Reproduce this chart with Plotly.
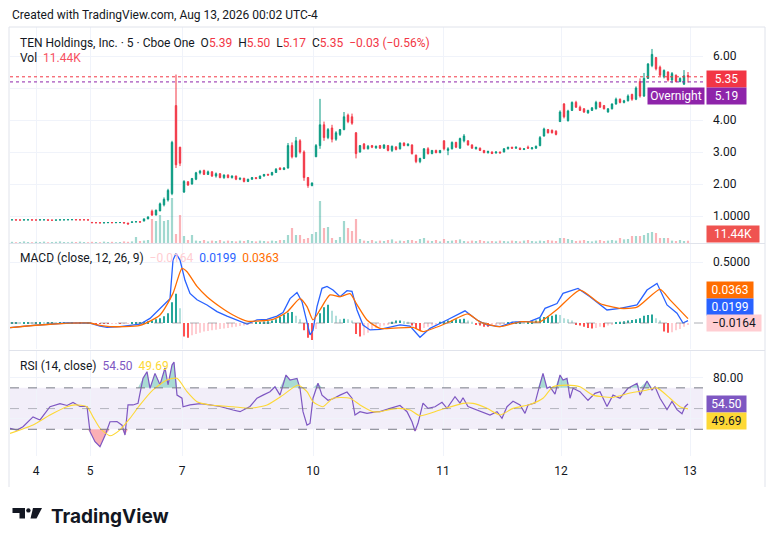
import plotly.graph_objects as go

# page has an 8px body margin: figure is sized to fit and coordinates are page pixels
OFF = 8
W, H = 776 - 2 * OFF, 546 - 2 * OFF
def fx(p): return (p - OFF) / W
def fy(p): return 1 - (p - OFF) / H

# ---------------- DATA ----------------
bars = list(range(170))                      # 5-minute bar number
day_ticks = [6, 19.5, 42.5, 75.25, 107.75, 137.25, 169.5]
day_labels = ["4", "5", "7", "10", "11", "12", "13"]

open_ = [.88,.88,.875,.875,.88,.88,.875,.875,.88,.88,
         .87,.87,.875,.88,.88,.885,.885,.88,.88,.88,
         .80,.79,.79,.785,.79,.795,.79,.795,.795,.78,
         .80,.815,.82,.84,.91,1.15,1.03,1.16,1.35,1.5,
         1.7,4.45,3.15,1.75,2.07,2.0,2.15,2.35,2.42,2.3,
         2.38,2.25,2.32,2.2,2.28,2.2,2.25,2.15,2.18,2.08,
         2.15,2.2,2.17,2.25,2.3,2.28,2.36,2.5,2.45,2.5,
         3.2,2.85,3.35,3.0,2.2,1.95,2.85,3.2,3.85,3.45,
         3.75,3.4,3.55,3.7,4.15,4.1,3.6,3.0,3.25,3.1,
         3.2,3.13,3.2,3.12,3.2,3.05,3.16,3.1,3.28,3.2,
         3.22,2.9,2.7,2.8,3.1,2.95,3.05,2.98,3.35,3.05,
         3.1,3.3,3.12,3.35,3.35,3.22,3.1,3.12,3.05,2.98,
         3.0,2.97,3.0,3.0,3.1,3.15,3.12,3.12,3.08,3.15,
         3.1,3.12,3.2,3.5,3.7,3.68,3.65,3.95,4.5,3.98,
         4.3,4.55,4.4,4.35,4.22,4.3,4.35,4.55,4.45,4.25,
         4.35,4.5,4.65,4.55,4.6,4.8,4.65,5.2,4.75,5.3,
         5.7,5.95,5.65,5.35,5.5,5.25,5.4,5.2,5.12,5.39]
high_ = [.885,.88,.88,.885,.885,.88,.88,.885,.885,.88,
         .875,.88,.885,.885,.885,.89,.89,.885,.885,.88,
         .81,.80,.795,.795,.80,.80,.80,.80,.80,.785,
         .82,.83,.83,.92,.99,1.2,1.2,1.42,1.58,1.85,
         3.35,5.42,3.16,2.12,2.08,2.19,2.38,2.44,2.45,2.42,
         2.4,2.36,2.34,2.3,2.3,2.27,2.26,2.2,2.19,2.16,
         2.22,2.21,2.26,2.31,2.32,2.38,2.5,2.52,2.53,3.28,
         3.3,3.47,3.4,3.05,2.22,2.05,3.25,4.66,3.95,3.75,
         3.85,3.65,3.72,4.25,4.2,4.2,3.62,3.22,3.28,3.22,
         3.22,3.2,3.22,3.24,3.22,3.2,3.18,3.3,3.3,3.27,
         3.24,2.92,2.82,3.12,3.15,3.06,3.07,3.06,3.36,3.15,
         3.33,3.32,3.45,3.56,3.36,3.24,3.16,3.14,3.06,3.04,
         3.02,3.02,3.01,3.12,3.16,3.16,3.17,3.14,3.12,3.2,
         3.15,3.2,3.5,3.76,3.72,3.7,3.68,4.3,4.53,4.32,
         4.58,4.6,4.45,4.37,4.32,4.4,4.6,4.57,4.47,4.37,
         4.52,4.7,4.67,4.63,4.8,4.82,5.05,5.3,5.47,5.78,
         6.22,5.97,5.7,5.58,5.52,5.5,5.42,5.33,5.56,5.50]
low_ = [.875,.87,.87,.87,.875,.87,.87,.875,.875,.87,
        .865,.87,.875,.875,.875,.88,.88,.875,.875,.87,
        .79,.78,.78,.78,.785,.785,.785,.79,.78,.74,
        .80,.81,.80,.84,.90,1.0,1.02,1.15,1.3,1.45,
        1.65,2.5,2.56,1.72,1.94,1.98,2.12,2.3,2.28,2.28,
        2.22,2.2,2.18,2.16,2.18,2.17,2.12,2.12,2.05,2.06,
        2.13,2.15,2.16,2.23,2.26,2.27,2.35,2.44,2.44,2.48,
        2.8,2.83,2.95,2.1,1.88,1.93,2.85,3.1,3.35,3.4,
        3.3,3.35,3.5,3.68,3.9,3.85,2.8,2.98,3.08,3.08,
        3.12,3.1,3.1,3.1,3.02,3.0,3.05,3.08,3.18,3.18,
        2.92,2.65,2.65,2.78,2.92,2.93,2.96,2.96,3.05,2.9,
        3.08,3.12,3.1,3.3,3.2,3.1,3.08,3.03,2.96,2.95,
        2.94,2.95,2.96,2.99,3.08,3.1,3.1,3.06,3.06,3.1,
        3.08,3.1,3.18,3.48,3.58,3.58,3.52,3.94,4.05,3.95,
        4.28,4.38,4.28,4.22,4.2,4.28,4.33,4.38,4.33,4.23,
        4.33,4.48,4.52,4.52,4.58,4.6,4.62,4.7,4.72,5.28,
        5.65,5.55,5.38,5.3,5.2,5.15,5.18,5.18,5.1,5.17]
close_ = [.88,.875,.875,.88,.88,.875,.875,.88,.88,.87,
          .87,.875,.88,.88,.885,.885,.88,.88,.88,.875,
          .79,.79,.785,.79,.795,.79,.795,.795,.78,.75,
          .815,.82,.81,.91,.97,1.03,1.18,1.38,1.52,1.8,
          3.3,2.6,2.65,2.08,1.97,2.17,2.35,2.4,2.3,2.38,
          2.25,2.32,2.2,2.28,2.2,2.25,2.15,2.18,2.08,2.15,
          2.2,2.17,2.25,2.3,2.28,2.36,2.46,2.45,2.5,3.2,
          2.85,3.35,3.0,2.2,1.95,2.03,3.2,3.85,3.45,3.7,
          3.4,3.6,3.7,4.1,3.95,3.9,2.95,3.2,3.1,3.18,
          3.15,3.18,3.12,3.22,3.05,3.18,3.08,3.28,3.2,3.25,
          2.95,2.7,2.8,3.1,2.95,3.05,2.98,3.05,3.1,3.1,
          3.3,3.15,3.42,3.5,3.22,3.12,3.15,3.05,2.98,3.02,
          2.95,3.0,2.97,3.1,3.15,3.12,3.15,3.08,3.1,3.12,
          3.13,3.18,3.45,3.72,3.6,3.6,3.55,4.25,4.1,4.28,
          4.55,4.4,4.3,4.25,4.3,4.38,4.55,4.4,4.35,4.35,
          4.5,4.65,4.55,4.6,4.75,4.65,5.0,4.75,5.3,5.75,
          6.05,5.6,5.4,5.55,5.25,5.45,5.2,5.3,5.38,5.35]
volume_k = [6,4,5,8,5,4,6,5,7,4,5,6,8,5,4,6,5,7,5,4,6,5,4,7,5,6,4,5,8,6,
            8,30,10,12,15,120,110,140,110,115,225,45,140,35,15,40,
            12,10,15,8,12,10,15,8,12,10,8,12,10,15,10,8,12,10,8,12,10,15,
            15,40,75,40,40,20,25,45,55,210,75,80,25,15,30,110,75,60,120,
            20,12,10,15,8,12,10,15,18,8,12,10,15,
            15,10,20,25,12,10,15,8,20,10,12,15,18,10,8,12,10,15,10,8,
            10,8,12,10,8,12,10,8,12,15,10,8,12,10,15,12,10,25,25,20,
            15,10,12,15,10,8,12,15,10,12,15,12,
            25,18,20,35,35,35,40,50,55,50,25,25,25,12,10,15,10,11.44]
overnight_price = 5.19

macd_hist = [.006,.006,.005,.006,.006,.005,.006,.006,.005,.006,
             .006,.005,.006,.006,.005,.005,.004,.004,.003,.003,
             -.004,-.006,-.007,-.008,-.008,-.007,-.006,-.006,-.005,-.004,
             .003,.005,.006,.01,.015,.02,.03,.04,.055,.08,
             .17,.24,.12,-.11,-.12,-.1,-.09,-.08,-.07,-.065,
             -.06,-.055,-.05,-.045,-.04,-.035,-.03,-.025,-.02,-.015,
             -.008,.005,.008,.012,.015,.02,.03,.05,.07,.085,
             .09,.06,.03,-.06,-.12,-.14,-.05,.08,.13,.15,
             .1,.06,.03,.035,.03,.02,-.09,-.11,-.1,-.08,
             -.05,-.04,-.03,-.02,-.01,.01,.02,.02,.015,.01,
             -.02,-.05,-.06,-.04,-.03,-.02,-.01,.01,.015,.02,
             .025,.03,.03,.035,.02,.01,-.01,-.02,-.03,-.03,
             -.02,-.015,-.01,-.005,.005,.01,.01,.012,.01,.012,
             .015,.02,.04,.05,.055,.06,.07,.065,.04,.03,
             .02,-.01,-.02,-.03,-.04,-.045,-.04,-.03,-.035,-.02,
             -.01,.005,.01,.015,.02,.025,.03,.04,.06,.065,
             .07,.04,.02,-.07,-.08,-.075,-.06,-.05,-.03,-.0164]
macd_t = [-0.5,5.25,13.75,19.5,22,23.75,27,32,34.5,37,38.75,39.5,40.25,41,42,43.25,44.5,46.25,
          48.75,51.25,53.75,56.25,58.75,61.25,63.75,66.25,67.75,69.5,71.25,72.5,73.25,74.5,75.25,
          76.25,77.5,78.75,80.25,82,83.75,85,86.25,87.75,89.5,92,97,99.5,102,104.5,108.75,113.25,
          116.25,118.75,122,125.25,129.5,132,133.25,136.25,137.75,141.5,144.5,148.75,152,156.25,
          158.75,161.25,163.75,166.25,167.75,169]
macd_v = [-0.038,-0.02,0.0,0.0,-0.025,-0.035,-0.03,-0.01,0.038,0.12,0.175,0.2,0.516,0.57,0.516,
          0.35,0.243,0.19,0.148,0.093,0.057,0.025,-0.008,0.025,0.03,0.057,0.085,0.2,0.25,0.175,
          0.066,-0.098,-0.06,0.134,0.284,0.3,0.27,0.216,0.265,0.26,0.107,-0.016,-0.057,-0.052,
          -0.016,-0.025,-0.117,-0.044,0.025,0.1,0.025,-0.016,-0.03,0.008,0.013,0.046,0.12,0.16,
          0.243,0.284,0.216,0.107,0.12,0.148,0.27,0.325,0.148,0.08,0.0,0.0199]
signal_t = [-0.5,9.5,19.5,22,24.5,32,37,40.25,42.5,43.75,46.25,48.75,52,55.25,58.75,61.25,65.25,
            68.75,72,73.75,75.25,77,79.5,82,84.5,86.25,88.75,92,100.25,102.75,108.75,114,117,122,
            127,132,136.25,142,147,152,156.25,162,164.5,169]
signal_v = [-0.038,-0.01,0.0,-0.02,-0.03,-0.02,0.066,0.243,0.448,0.42,0.3,0.216,0.134,0.066,0.016,
            0.016,0.03,0.09,0.2,0.134,0.025,0.107,0.23,0.216,0.24,0.15,0.025,-0.044,-0.036,-0.07,
            0.0,0.074,0.01,-0.03,0.01,0.01,0.11,0.27,0.16,0.12,0.13,0.276,0.19,0.0363]

rsi_t = [-0.5,1.25,2.75,5.25,7,9.5,12,13.75,15.25,17,
         18.75,19.5,20.75,22,23.25,24.5,26.25,27.5,28.25,29,
         30.25,31.5,32.75,33.75,34.5,35.75,37,38.25,39,40,
         40.5,41.25,42.5,42.75,44.5,47,49.5,52,55.25,57,
         59.5,61.25,62.75,64.5,65.75,67,68.5,69.5,71.25,72,
         72.75,73.75,74.5,75.25,76.5,77.5,79,80.25,82,83.75,
         85,85.75,87,88.75,91.25,92,94.5,97,98.75,100,
         100.75,101.5,102.75,104,105.75,107.5,108.75,110.75,112,112.75,
         114,116.25,117.75,119.5,121.25,122.5,123.75,125.25,127,128.25,
         129,130.75,131.5,132.75,133.75,134.5,135.75,137,137.75,138.75,
         139.5,140.25,142,144,145.75,147,148.75,150.25,152,154,
         156.25,157,158.75,160,160.75,162,163.75,165,166.25,167.5,
         168.25,169]
rsi_v = [30.9,29.3,32.5,42,39,51.8,54.7,53,56,52,
         52,27.7,18,13.2,24,37.3,37.5,34,24.5,53.5,
         53.5,55,79.2,85.6,69.6,84,73,89.2,73,92,
         95,63,60,51.8,53.5,54.7,53.5,52,48.6,47,
         52,60,63,66.3,71,63,82.4,77.6,79.2,69.6,
         47,34,35.6,60,74.4,63,58,59.5,63,66,
         60,43.8,47,45.4,47,47,50.2,53,47,37.3,
         28.4,35.8,55.3,50.2,51.8,56,50.2,61.5,55.3,60.5,
         52,48.6,47,43.8,47,40.6,51.8,57,53.5,45.4,
         53.5,55.3,66.3,84,69.6,71,64,82.4,77.6,79.2,
         60,69.6,66.3,58,64.7,66.3,52,63,60,69.6,
         74.4,63,76.7,68,71,60,49,57,49,45,
         51.8,54.5]
rsi_ma_t = [-0.5,5.25,9.5,13.75,15.75,18.75,20.25,22,24.5,27,
            29.5,32,35.25,38.75,41.25,43.75,46.25,49.5,55.25,59.5,
            63.75,67.75,71.5,73.75,75.25,77.75,80.25,84.5,87,90.25,
            92,96.25,99.5,102,107,112.75,115.25,118.75,122,125.25,
            129.5,132.75,135.25,138.75,142,145.25,150.25,154.5,158.75,161.25,
            164.5,167,169]
rsi_ma_v = [26,34.2,43.8,51.8,53.6,51.8,42,31,23.8,29.5,
            40.6,53.5,68,77.6,79.2,66.3,56.6,53.5,51.8,50.2,
            53.5,63,72.8,66.3,56.6,51.8,60,60,53.5,47,
            47,50.2,48.6,43,48.6,55,55,50.2,43.8,50.2,
            54,60,71,72.6,71,63,60.8,65,68,70,
            60,51.8,49.69]

# ---------------- STYLE ----------------
FONT = "Roboto"
TXT = "#131722"
UP, DN = "#089981", "#f23645"
GRID = "#f0f3fa"
BORDER = "#e0e3eb"
PURPLE_TAG = "#8e24aa"
X_RANGE = [-0.5, 172.75]

def fmt_minus(v, nd):
    s = f"{v:.{nd}f}"
    return s.replace("-", "\u2212")

fig = go.Figure()

# Volume
vol_colors = ["rgba(8,153,129,0.38)" if c >= o else "rgba(242,54,69,0.38)"
              for o, c in zip(open_, close_)]
fig.add_trace(go.Bar(x=bars, y=volume_k, marker=dict(color=vol_colors, line=dict(width=0)),
                     width=0.55, xaxis="x", yaxis="y2", hoverinfo="skip"))
# Candles
fig.add_trace(go.Candlestick(x=bars, open=open_, high=high_, low=low_, close=close_,
                             increasing=dict(line=dict(color=UP, width=1), fillcolor=UP),
                             decreasing=dict(line=dict(color=DN, width=1), fillcolor=DN),
                             whiskerwidth=0, xaxis="x", yaxis="y", hoverinfo="skip"))

# MACD histogram
hist_colors = []
for i, v in enumerate(macd_hist):
    prev = macd_hist[i - 1] if i > 0 else v
    if v >= 0:
        hist_colors.append("#26a69a" if v >= prev else "#b2dfdb")
    else:
        hist_colors.append("#ffcdd2" if v > prev else "#ff5252")
fig.add_trace(go.Bar(x=bars, y=macd_hist, marker=dict(color=hist_colors, line=dict(width=0)),
                     width=0.5, xaxis="x2", yaxis="y3", hoverinfo="skip"))
fig.add_trace(go.Scatter(x=macd_t, y=macd_v, mode="lines", line=dict(color="#2962ff", width=1.3),
                         xaxis="x2", yaxis="y3", hoverinfo="skip"))
fig.add_trace(go.Scatter(x=signal_t, y=signal_v, mode="lines",
                         line=dict(color="#ff6d00", width=1.3, shape="spline", smoothing=0.6),
                         xaxis="x2", yaxis="y3", hoverinfo="skip"))

# RSI overbought / oversold fills
fig.add_trace(go.Scatter(x=rsi_t, y=[70] * len(rsi_t), mode="lines", line=dict(width=0),
                         xaxis="x3", yaxis="y4", hoverinfo="skip"))
fig.add_trace(go.Scatter(x=rsi_t, y=[max(v, 70) for v in rsi_v], mode="lines", line=dict(width=0),
                         fill="tonexty", fillcolor="rgba(8,153,129,0.35)",
                         xaxis="x3", yaxis="y4", hoverinfo="skip"))
fig.add_trace(go.Scatter(x=rsi_t, y=[30] * len(rsi_t), mode="lines", line=dict(width=0),
                         xaxis="x3", yaxis="y4", hoverinfo="skip"))
fig.add_trace(go.Scatter(x=rsi_t, y=[min(v, 30) for v in rsi_v], mode="lines", line=dict(width=0),
                         fill="tonexty", fillcolor="rgba(242,54,69,0.4)",
                         xaxis="x3", yaxis="y4", hoverinfo="skip"))
fig.add_trace(go.Scatter(x=rsi_t, y=rsi_v, mode="lines", line=dict(color="#7e57c2", width=1.2),
                         xaxis="x3", yaxis="y4", hoverinfo="skip"))
fig.add_trace(go.Scatter(x=rsi_ma_t, y=rsi_ma_v, mode="lines",
                         line=dict(color="#fdd835", width=1.1, shape="spline", smoothing=0.6),
                         xaxis="x3", yaxis="y4", hoverinfo="skip"))

xcommon = dict(domain=[fx(10), fx(703)], range=X_RANGE, tickmode="array", tickvals=day_ticks,
               ticktext=day_labels, showgrid=True, gridcolor=GRID, gridwidth=1, zeroline=False,
               showline=False, ticks="", fixedrange=True)
ycommon = dict(side="right", showgrid=True, gridcolor=GRID, zeroline=False, showline=False,
               ticks="", tickfont=dict(size=12, color=TXT, family=FONT), ticklabelstandoff=9)

fig.update_layout(
    width=W, height=H, margin=dict(l=0, r=0, t=0, b=0),
    paper_bgcolor="white", plot_bgcolor="white", showlegend=False,
    font=dict(family=FONT, size=12, color=TXT), boxgap=0.5,
    xaxis=dict(xcommon, anchor="y", showticklabels=False, rangeslider=dict(visible=False)),
    xaxis2=dict(xcommon, anchor="y3", showticklabels=False, matches="x"),
    xaxis3=dict(xcommon, anchor="y4", showticklabels=True, matches="x",
                tickfont=dict(size=12, color=TXT, family=FONT), ticklabelstandoff=6),
    yaxis=dict(ycommon, domain=[fy(243), fy(27)], range=[(248 - 243) / 32, (248 - 27) / 32],
               anchor="x", tickmode="array", tickvals=[1, 2, 3, 4, 5, 6],
               ticktext=["1.0000", "2.00", "3.00", "4.00", "", "6.00"]),
    yaxis2=dict(overlaying="y", range=[0, 1080], visible=False, anchor="x"),
    yaxis3=dict(ycommon, domain=[fy(349), fy(244)], range=[-0.213, 0.6475], anchor="x2",
                tickmode="array", tickvals=[0.5], ticktext=["0.5000"]),
    yaxis4=dict(ycommon, domain=[fy(456), fy(351)], range=[4.2, 105.6], anchor="x3",
                tickmode="array", tickvals=[40, 80], ticktext=["", "80.00"]),
)

shapes = []
# RSI band and levels
shapes.append(dict(type="rect", xref="paper", yref="y4", x0=fx(10), x1=fx(703), y0=30, y1=70,
                   fillcolor="rgba(126,87,194,0.10)", line=dict(width=0), layer="below"))
for lvl, col in [(70, "#787b86"), (30, "#787b86"), (50, "rgba(120,123,134,0.5)")]:
    shapes.append(dict(type="line", xref="paper", yref="y4", x0=fx(10), x1=fx(703), y0=lvl, y1=lvl,
                       line=dict(color=col, width=1, dash="dash")))
# MACD zero line
shapes.append(dict(type="line", xref="paper", yref="y3", x0=fx(10), x1=fx(707), y0=0, y1=0,
                   line=dict(color="rgba(120,123,134,0.6)", width=1, dash="dash")))
# Price lines
shapes.append(dict(type="line", xref="paper", yref="y", x0=fx(10), x1=fx(705),
                   y0=close_[-1], y1=close_[-1], line=dict(color=DN, width=1, dash="dot")))
shapes.append(dict(type="line", xref="paper", yref="y", x0=fx(10), x1=fx(705),
                   y0=overnight_price, y1=overnight_price,
                   line=dict(color=PURPLE_TAG, width=1, dash="dot")))
# frame & separators
for yy in (27, 243.5, 350.5):
    shapes.append(dict(type="line", xref="paper", yref="paper", x0=fx(9), x1=fx(765),
                       y0=fy(yy), y1=fy(yy), line=dict(color=BORDER, width=1)))
for xx in (9, 765):
    shapes.append(dict(type="line", xref="paper", yref="paper", x0=fx(xx), x1=fx(xx),
                       y0=fy(27), y1=fy(487), line=dict(color=BORDER, width=1)))
# TradingView logo mark
def path(pts):
    return "M" + " L".join(f"{fx(a):.5f},{fy(b):.5f}" for a, b in pts) + " Z"
shapes.append(dict(type="path", xref="paper", yref="paper",
                   path=path([(12.5, 508), (25, 508), (25, 518.5), (19.5, 518.5), (19.5, 513), (12.5, 513)]),
                   fillcolor="#131722", line=dict(width=0)))
shapes.append(dict(type="circle", xref="paper", yref="paper", x0=fx(26.2), x1=fx(30.6),
                   y0=fy(512.6), y1=fy(508.2), fillcolor="#131722", line=dict(width=0)))
shapes.append(dict(type="path", xref="paper", yref="paper",
                   path=path([(33, 508), (42, 508), (36.5, 518.5), (30.5, 518.5)]),
                   fillcolor="#131722", line=dict(width=0)))
fig.update_layout(shapes=shapes)

anns = []
def ann(x, y, text, xanchor="left", color=TXT, size=12, **kw):
    anns.append(dict(xref="paper", yref="paper", x=fx(x), y=fy(y), text=text, showarrow=False,
                     xanchor=xanchor, yanchor="middle", font=dict(family=FONT, size=size, color=color),
                     **kw))

def span(t, c):
    return f"<span style='color:{c}'>{t}</span>"

NB = "\u00a0"
chg = close_[-1] - close_[-2]
chg_pct = chg / close_[-2] * 100
ann(10, 15, "Created with TradingView.com, Aug 13, 2026 00:02 UTC-4")
legend1 = ("TEN Holdings, Inc. · 5 · Cboe One" + NB * 2 +
           "O" + span(f"{open_[-1]:.2f}", DN) + NB * 2 +
           "H" + span(f"{high_[-1]:.2f}", DN) + NB * 2 +
           "L" + span(f"{low_[-1]:.2f}", DN) + NB * 2 +
           "C" + span(f"{close_[-1]:.2f}", DN) + NB * 2 +
           span(f"{fmt_minus(chg, 2)} ({fmt_minus(chg_pct, 2)}%)", DN))
ann(18, 43, legend1)
ann(18, 58, "Vol" + NB * 2 + span(f"{volume_k[-1]:.2f}K", "#f7525f"))
ann(18, 258, "MACD (close, 12, 26, 9)" + NB * 2 +
    span(fmt_minus(macd_hist[-1], 4), "#ffcdd2") + NB * 2 +
    span(fmt_minus(macd_v[-1], 4), "#2962ff") + NB * 2 +
    span(fmt_minus(signal_v[-1], 4), "#ff6d00"))
ann(18, 366, "RSI (14, close)" + NB * 2 + span(f"{rsi_v[-1]:.2f}", "#7e57c2") + NB * 2 +
    span(f"{rsi_ma_v[-1]:.2f}", "#fdd835"))

def tag(y, text, bg, fg="white", w=37, x=705.5):
    anns.append(dict(xref="paper", yref="paper", x=fx(x), y=fy(y), text=text, showarrow=False,
                     xanchor="left", yanchor="middle", width=w, height=14, align="center",
                     bgcolor=bg, borderpad=1, font=dict(family=FONT, size=12, color=fg)))

tag(78.5, f"{close_[-1]:.2f}", DN)
tag(95.5, f"{overnight_price:.2f}", PURPLE_TAG)
tag(95.5, "Overnight", PURPLE_TAG, w=54, x=647)
tag(234, f"{volume_k[-1]:.2f}K", "#ef5350", w=50)
tag(290, fmt_minus(signal_v[-1], 4), "#ff6d00", w=44)
tag(306.5, fmt_minus(macd_v[-1], 4), "#2962ff", w=44)
tag(323, fmt_minus(macd_hist[-1], 4), "#ffcdd2", fg=TXT, w=52)
tag(404, f"{rsi_v[-1]:.2f}", "#7e57c2")
tag(420.5, f"{rsi_ma_v[-1]:.2f}", "#fdd835", fg=TXT)

anns.append(dict(xref="paper", yref="paper", x=fx(49), y=fy(516), text="<b>TradingView</b>",
                 showarrow=False, xanchor="left", yanchor="middle",
                 font=dict(family="Inter", size=19, color="#131722")))
fig.update_layout(annotations=anns)

fig.write_html("out.html")
